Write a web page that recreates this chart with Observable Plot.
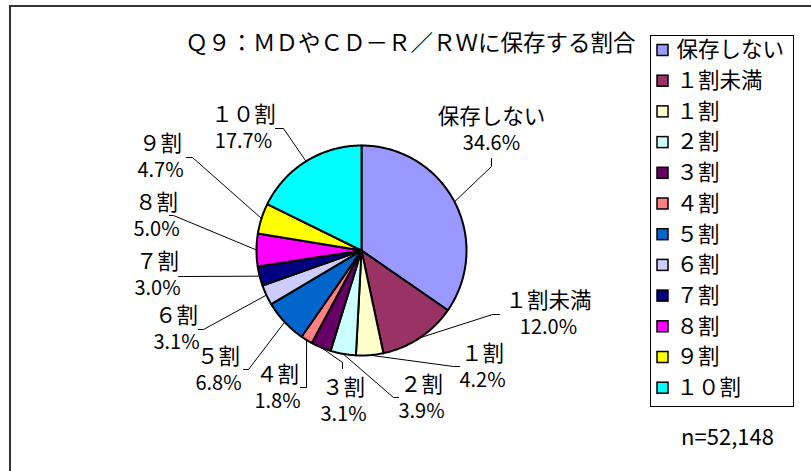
<!DOCTYPE html>
<html><head><meta charset="utf-8">
<script src="https://cdn.jsdelivr.net/npm/d3@7"></script>
<script src="https://cdn.jsdelivr.net/npm/@observablehq/plot@0.6"></script>
<style>
html,body{margin:0;padding:0;background:#fff;}
#chart svg{display:block;}
</style></head><body><div id="chart"></div>
<script>
// ---- data ----
const categories = ["保存しない","１割未満","１割","２割","３割","４割","５割","６割","７割","８割","９割","１０割"];
const shares = [34.6, 12.0, 4.2, 3.9, 3.1, 1.8, 6.8, 3.1, 3.0, 5.0, 4.7, 17.7];
const colors = ["#9999FF","#993366","#FFFFCC","#CCFFFF","#660066","#FF8080","#0066CC","#CCCCFF","#000080","#FF00FF","#FFFF00","#00FFFF"];
const chartTitle = "Ｑ９：ＭＤやＣＤ－Ｒ／ＲＷに保存する割合";
const sampleNote = "n=52,148";

// ---- layout ----
const W = 811, H = 471;
const FONT = "'Noto Sans CJK JP', 'Noto Sans', sans-serif";
const pie = {cx: 361, cy: 250, r: 105};
const labelBox = [[491,130],[548,314],[482,367],[421,398],[343,401],[277,388],[218,370],[176,329],[157,275],[156,216],[160,157],[243,128]];
const leaderElbow = [[491,166],[492,314],[453,366],[393,397],[342,362],[306,387],[248,369],[203,329],[183,276],[173,215],[192,157],[283,128]];
const leaderEnd = [[491,158],[499,314],[459,366],[398,397],[342,368],[300,387],[243,369],[198,329],[178,276],[169,215],[186,157],[275,128]];
const legend = {x1: 650.5, x2: 793.5, y1: 35.5, y2: 406.5, row0: 50, step: 30.7, sw: 11, swX: 657, textX: 676};

const total = d3.sum(shares);
let acc = 0;
const slices = categories.map((c, i) => {
  const a0 = acc / total * 2 * Math.PI; acc += shares[i];
  const a1 = acc / total * 2 * Math.PI;
  return {c, i, a0, a1, mid: (a0 + a1) / 2};
});
const pt = (a, r = pie.r) => [pie.cx + r * Math.sin(a), pie.cy - r * Math.cos(a)];
const slicePts = slices.flatMap(s => {
  const n = Math.max(2, Math.ceil((s.a1 - s.a0) / (Math.PI / 180)));
  const arr = [{c: s.c, x: pie.cx, y: pie.cy}];
  for (let k = 0; k <= n; k++) {
    const [x, y] = pt(s.a0 + (s.a1 - s.a0) * k / n);
    arr.push({c: s.c, x, y});
  }
  arr.push({c: s.c, x: pie.cx, y: pie.cy});
  return arr;
});
const leaderPts = slices.flatMap(s => {
  const [x, y] = pt(s.mid);
  return [
    {c: s.c, x, y},
    {c: s.c, x: leaderElbow[s.i][0], y: leaderElbow[s.i][1]},
    {c: s.c, x: leaderEnd[s.i][0], y: leaderEnd[s.i][1]}
  ];
});
const labels = slices.map(s => ({c: s.c, pct: shares[s.i].toFixed(1) + "%", x: labelBox[s.i][0], y: labelBox[s.i][1]}));
const legendRows = categories.map((c, i) => ({c, y: legend.row0 + i * legend.step}));

const chart = Plot.plot({
  width: W, height: H,
  margin: 0,
  x: {domain: [0, W], range: [0, W], axis: null},
  y: {domain: [0, H], range: [0, H], axis: null},
  color: {domain: categories, range: colors},
  style: {fontFamily: FONT, background: "#fff", color: "#000"},
  marks: [
    // outer border (top & left edges visible)
    Plot.ruleY([5.5], {x1: 9, x2: W, stroke: "#333", strokeWidth: 2}),
    Plot.ruleX([9.5], {y1: 5, y2: H, stroke: "#333", strokeWidth: 2}),
    // leaders
    Plot.line(leaderPts, {x: "x", y: "y", z: "c", stroke: "#000", strokeWidth: 1, curve: "linear"}),
    // pie slices
    Plot.line(slicePts, {x: "x", y: "y", z: "c", fill: "c", stroke: "#000", strokeWidth: 2, strokeLinejoin: "round", curve: "linear"}),
    // labels
    Plot.text(labels, {x: "x", y: d => d.y - 13.5, text: "c", fontSize: 21.5, fill: "#000"}),
    Plot.text(labels, {x: "x", y: d => d.y + 13.5, text: "pct", fontSize: 20, fill: "#000"}),
    // title
    Plot.text([chartTitle], {x: 410, y: 43, text: d => d, fontSize: 22.5, fill: "#000"}),
    // legend
    Plot.rect([0], {x1: legend.x1, x2: legend.x2, y1: legend.y1, y2: legend.y2, fill: "#fff", stroke: "#000", strokeWidth: 1}),
    Plot.rect(legendRows, {x1: legend.swX, x2: legend.swX + legend.sw, y1: d => d.y - legend.sw / 2, y2: d => d.y + legend.sw / 2, fill: "c", stroke: "#000", strokeWidth: 1.5}),
    Plot.text(legendRows, {x: legend.textX, y: "y", text: "c", textAnchor: "start", fontSize: 21.5, fill: "#000"}),
    // sample size note
    Plot.text([sampleNote], {x: 727, y: 437, text: d => d, fontSize: 22, fill: "#000"})
  ]
});
document.getElementById("chart").appendChild(chart);
</script>
</body></html>
